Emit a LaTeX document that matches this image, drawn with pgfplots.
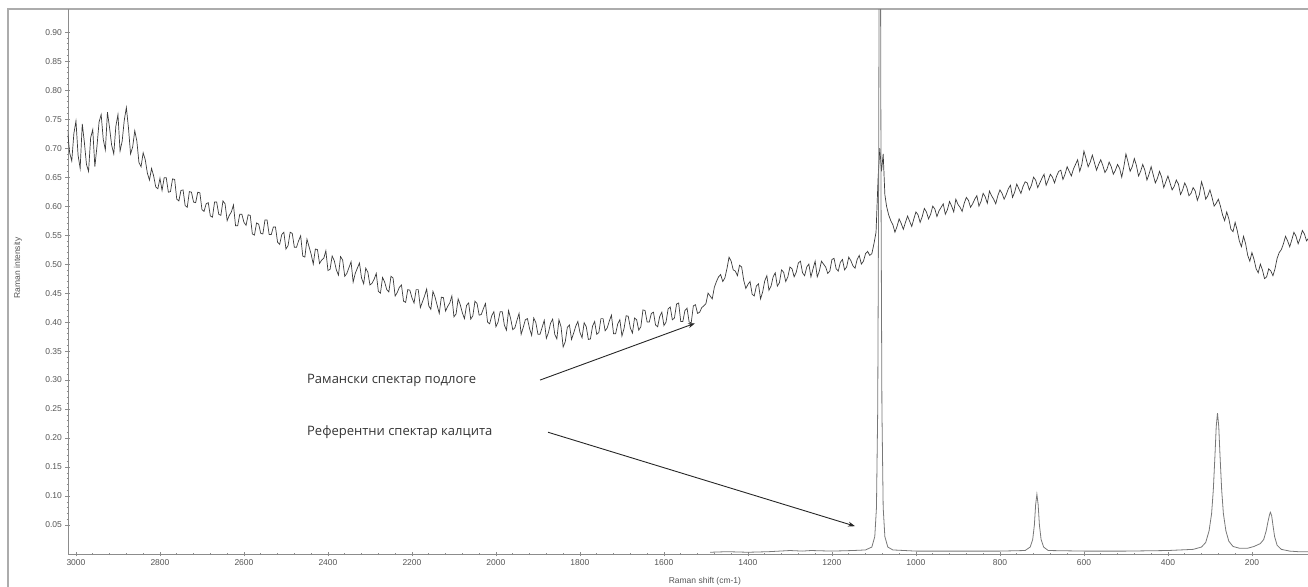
\documentclass[border=0pt]{standalone}
\usepackage{fontspec}
\setmainfont{Liberation Sans}
\newfontfamily\annfont{Open Sans}
\usepackage{pgfplots}
\pgfplotsset{compat=1.18}
\usetikzlibrary{arrows.meta}
\definecolor{subst}{HTML}{3A3A3A}
\definecolor{calc}{HTML}{787878}
\definecolor{axgray}{HTML}{8C8C8C}
\definecolor{txtgray}{HTML}{555555}
\begin{document}
\begin{tikzpicture}
\path[use as bounding box] (0,0) rectangle (1308pt,586pt);
\draw[gray!65, line width=2pt] (8pt,-20pt) -- (8pt,577pt) -- (1330pt,577pt);
\begin{axis}[
  at={(68pt,32pt)}, anchor=south west,
  scale only axis, width=1244pt, height=545pt,
  x dir=reverse, xmin=57, xmax=3019, ymin=0, ymax=0.94,
  axis x line*=bottom, axis y line*=left,
  axis line style={axgray, line width=0.8pt, -},
  xtick={200,400,...,3000},
  ytick={0.05,0.10,0.15,0.20,0.25,0.30,0.35,0.40,0.45,0.50,0.55,0.60,0.65,0.70,0.75,0.80,0.85,0.90},
  minor x tick num=4, minor y tick num=4,
  tick align=center,
  major tick length=5pt, minor tick length=2.5pt,
  tick style={axgray, line width=0.6pt},
  /pgf/number format/assume math mode=true,
  xticklabel style={font=\fontsize{8.5}{9}\selectfont, text=txtgray, /pgf/number format/1000 sep={}},
  yticklabel style={font=\fontsize{8.5}{9}\selectfont, text=txtgray, /pgf/number format/.cd, fixed, fixed zerofill, precision=2},
  xlabel={Raman shift (cm-1)}, ylabel={Raman intensity},
  xlabel style={font=\fontsize{8.5}{9}\selectfont, text=txtgray, at={(axis description cs:0.512,-0.0495)}, anchor=center},
  ylabel style={font=\fontsize{8.5}{9}\selectfont, text=txtgray, at={(axis description cs:-0.0402,0.525)}, anchor=center},
  clip=true,
]
% substrate Raman spectrum
\addplot[subst, line width=0.7pt] coordinates {
(3020,0.730)(3015,0.692)(3010,0.678)(3005,0.725)(3000,0.747)(2995,0.688)(2990,0.665)(2985,0.742)(2980,0.710)(2975,0.672)
(2970,0.660)(2965,0.718)(2960,0.732)(2955,0.668)(2950,0.703)(2945,0.745)(2940,0.758)(2935,0.715)(2930,0.697)(2925,0.762)
(2920,0.735)(2915,0.705)(2910,0.690)(2905,0.738)(2900,0.758)(2895,0.695)(2890,0.712)(2885,0.748)(2880,0.770)(2875,0.735)
(2870,0.690)(2865,0.702)(2860,0.730)(2855,0.712)(2850,0.675)(2845,0.668)(2840,0.692)(2835,0.680)(2830,0.657)(2825,0.645)
(2820,0.665)(2815,0.652)(2810,0.633)(2805,0.630)(2800,0.648)(2795,0.627)(2790,0.649)(2785,0.649)(2780,0.624)(2775,0.625)
(2770,0.647)(2765,0.646)(2760,0.612)(2755,0.609)(2750,0.627)(2745,0.628)(2740,0.601)(2735,0.598)(2730,0.625)(2725,0.624)
(2720,0.607)(2715,0.606)(2710,0.624)(2705,0.623)(2700,0.594)(2695,0.591)(2690,0.604)(2685,0.606)(2680,0.583)(2675,0.581)
(2670,0.607)(2665,0.607)(2660,0.586)(2655,0.584)(2650,0.609)(2645,0.604)(2640,0.575)(2635,0.584)(2630,0.590)(2625,0.602)
(2620,0.566)(2615,0.566)(2610,0.586)(2605,0.586)(2600,0.572)(2595,0.567)(2590,0.585)(2585,0.584)(2580,0.552)(2575,0.550)
(2570,0.571)(2565,0.569)(2560,0.553)(2555,0.552)(2550,0.576)(2545,0.576)(2540,0.551)(2535,0.551)(2530,0.564)(2525,0.564)
(2520,0.538)(2515,0.534)(2510,0.551)(2505,0.555)(2500,0.526)(2495,0.532)(2490,0.555)(2485,0.553)(2480,0.529)(2475,0.529)
(2470,0.540)(2465,0.549)(2460,0.514)(2455,0.512)(2450,0.543)(2445,0.530)(2440,0.517)(2435,0.500)(2430,0.526)(2425,0.525)
(2420,0.501)(2415,0.507)(2410,0.510)(2405,0.523)(2400,0.489)(2395,0.491)(2390,0.514)(2385,0.506)(2380,0.490)(2375,0.481)
(2370,0.513)(2365,0.507)(2360,0.479)(2355,0.484)(2350,0.494)(2345,0.504)(2340,0.469)(2335,0.484)(2330,0.493)(2325,0.502)
(2320,0.476)(2315,0.466)(2310,0.493)(2305,0.486)(2300,0.464)(2295,0.467)(2290,0.474)(2285,0.484)(2280,0.453)(2275,0.450)
(2270,0.477)(2265,0.469)(2260,0.456)(2255,0.452)(2250,0.479)(2245,0.476)(2240,0.445)(2235,0.451)(2230,0.460)(2225,0.464)
(2220,0.436)(2215,0.434)(2210,0.456)(2205,0.455)(2200,0.442)(2195,0.433)(2190,0.456)(2185,0.456)(2180,0.425)(2175,0.435)
(2170,0.445)(2165,0.457)(2160,0.428)(2155,0.422)(2150,0.453)(2145,0.443)(2140,0.429)(2135,0.415)(2130,0.443)(2125,0.442)
(2120,0.419)(2115,0.427)(2110,0.433)(2105,0.445)(2100,0.409)(2095,0.414)(2090,0.440)(2085,0.430)(2080,0.416)(2075,0.406)
(2070,0.429)(2065,0.433)(2060,0.405)(2055,0.411)(2050,0.436)(2045,0.432)(2040,0.412)(2035,0.413)(2030,0.423)(2025,0.432)
(2020,0.400)(2015,0.397)(2010,0.411)(2005,0.418)(2000,0.392)(1995,0.400)(1990,0.418)(1985,0.418)(1980,0.395)(1975,0.386)
(1970,0.420)(1965,0.406)(1960,0.387)(1955,0.390)(1950,0.403)(1945,0.415)(1940,0.379)(1935,0.391)(1930,0.404)(1925,0.406)
(1920,0.389)(1915,0.377)(1910,0.407)(1905,0.399)(1900,0.379)(1895,0.379)(1890,0.391)(1885,0.403)(1880,0.372)(1875,0.382)
(1870,0.398)(1865,0.405)(1860,0.379)(1855,0.371)(1850,0.404)(1845,0.392)(1840,0.357)(1835,0.366)(1830,0.391)(1825,0.395)
(1820,0.370)(1815,0.381)(1810,0.393)(1805,0.401)(1800,0.382)(1795,0.373)(1790,0.399)(1785,0.392)(1780,0.370)(1775,0.371)
(1770,0.393)(1765,0.401)(1760,0.379)(1755,0.382)(1750,0.406)(1745,0.406)(1740,0.385)(1735,0.390)(1730,0.402)(1725,0.412)
(1720,0.380)(1715,0.380)(1710,0.397)(1705,0.404)(1700,0.376)(1695,0.389)(1690,0.411)(1685,0.410)(1680,0.390)(1675,0.381)
(1670,0.407)(1665,0.404)(1660,0.386)(1655,0.392)(1650,0.421)(1645,0.420)(1640,0.400)(1635,0.400)(1630,0.415)(1625,0.417)
(1620,0.395)(1615,0.392)(1610,0.410)(1605,0.417)(1600,0.394)(1595,0.400)(1590,0.423)(1585,0.426)(1580,0.404)(1575,0.407)
(1570,0.431)(1565,0.433)(1560,0.401)(1555,0.401)(1550,0.420)(1545,0.424)(1540,0.400)(1535,0.399)(1530,0.428)(1525,0.430)
(1520,0.415)(1515,0.417)(1510,0.425)(1505,0.428)(1500,0.432)(1495,0.450)(1490,0.445)(1485,0.440)(1480,0.460)(1475,0.470)
(1470,0.478)(1465,0.482)(1460,0.470)(1455,0.476)(1450,0.492)(1445,0.512)(1440,0.505)(1435,0.490)(1430,0.488)(1425,0.480)
(1420,0.498)(1415,0.495)(1410,0.472)(1405,0.458)(1400,0.465)(1395,0.470)(1390,0.448)(1385,0.445)(1380,0.462)(1375,0.466)
(1370,0.440)(1365,0.452)(1360,0.471)(1355,0.480)(1350,0.455)(1345,0.462)(1340,0.478)(1335,0.485)(1330,0.462)(1325,0.468)
(1320,0.490)(1315,0.486)(1310,0.470)(1305,0.478)(1300,0.495)(1295,0.492)(1290,0.478)(1285,0.486)(1280,0.502)(1275,0.505)
(1270,0.485)(1265,0.480)(1260,0.495)(1255,0.500)(1250,0.478)(1245,0.492)(1240,0.505)(1235,0.478)(1230,0.488)(1225,0.505)
(1220,0.500)(1215,0.495)(1210,0.484)(1205,0.488)(1200,0.508)(1195,0.510)(1190,0.492)(1185,0.488)(1180,0.503)(1175,0.508)
(1170,0.490)(1165,0.495)(1160,0.512)(1155,0.506)(1150,0.497)(1145,0.493)(1140,0.508)(1135,0.515)(1130,0.500)(1125,0.505)
(1120,0.518)(1115,0.522)(1110,0.515)(1105,0.518)(1100,0.535)(1095,0.555)(1090,0.650)(1086,0.700)(1082,0.660)(1078,0.690)
(1074,0.620)(1070,0.600)(1065,0.585)(1060,0.575)(1055,0.568)(1050,0.555)(1045,0.565)(1040,0.578)(1035,0.570)(1030,0.560)
(1025,0.572)(1020,0.583)(1015,0.574)(1010,0.565)(1005,0.578)(1000,0.590)(995,0.585)(990,0.572)(985,0.582)(980,0.596)
(975,0.590)(970,0.578)(965,0.586)(960,0.600)(955,0.595)(950,0.582)(945,0.592)(940,0.598)(935,0.604)(930,0.586)
(925,0.594)(920,0.608)(915,0.600)(910,0.590)(905,0.612)(900,0.603)(895,0.598)(890,0.591)(885,0.605)(880,0.615)
(875,0.610)(870,0.598)(865,0.604)(860,0.612)(855,0.618)(850,0.600)(845,0.608)(840,0.622)(835,0.616)(830,0.605)
(825,0.626)(820,0.618)(815,0.612)(810,0.604)(805,0.618)(800,0.628)(795,0.622)(790,0.612)(785,0.620)(780,0.630)
(775,0.636)(770,0.615)(765,0.624)(760,0.638)(755,0.630)(750,0.622)(745,0.634)(740,0.642)(735,0.640)(730,0.628)
(725,0.636)(720,0.650)(715,0.645)(710,0.632)(705,0.640)(700,0.648)(695,0.655)(690,0.636)(685,0.645)(680,0.655)
(675,0.650)(670,0.640)(665,0.652)(660,0.660)(655,0.662)(650,0.646)(645,0.655)(640,0.668)(635,0.660)(630,0.652)
(625,0.664)(620,0.672)(615,0.680)(610,0.660)(605,0.672)(600,0.695)(595,0.682)(590,0.668)(585,0.676)(580,0.688)
(575,0.675)(570,0.662)(565,0.672)(560,0.680)(555,0.670)(550,0.658)(545,0.664)(540,0.676)(535,0.668)(530,0.655)
(525,0.662)(520,0.672)(515,0.665)(510,0.650)(505,0.668)(500,0.690)(495,0.676)(490,0.660)(485,0.668)(480,0.682)
(475,0.670)(470,0.652)(465,0.660)(460,0.672)(455,0.662)(450,0.645)(445,0.655)(440,0.668)(435,0.654)(430,0.640)
(425,0.648)(420,0.660)(415,0.650)(410,0.632)(405,0.642)(400,0.652)(395,0.640)(390,0.628)(385,0.634)(380,0.645)
(375,0.638)(370,0.620)(365,0.628)(360,0.640)(355,0.632)(350,0.618)(345,0.622)(340,0.632)(335,0.626)(330,0.610)
(325,0.620)(320,0.642)(315,0.630)(310,0.612)(305,0.618)(300,0.628)(295,0.615)(290,0.600)(285,0.605)(280,0.612)
(275,0.600)(270,0.585)(265,0.575)(260,0.590)(255,0.578)(250,0.560)(245,0.556)(240,0.572)(235,0.558)(230,0.540)
(225,0.530)(220,0.548)(215,0.535)(210,0.515)(205,0.505)(200,0.520)(195,0.508)(190,0.492)(185,0.485)(180,0.500)
(175,0.490)(170,0.475)(165,0.478)(160,0.492)(155,0.488)(150,0.480)(145,0.492)(140,0.510)(135,0.520)(130,0.525)
(125,0.535)(120,0.548)(115,0.540)(110,0.530)(105,0.542)(100,0.555)(95,0.548)(90,0.535)(85,0.545)(80,0.558)
(75,0.552)(70,0.540)(65,0.545)(60,0.552)
};
% calcite reference spectrum
\addplot[calc, line width=0.8pt] coordinates {
(1490,0.003)(1450,0.004)(1400,0.003)(1350,0.004)(1300,0.006)(1270,0.005)(1250,0.006)(1200,0.005)(1150,0.006)(1120,0.007)
(1105,0.012)(1098,0.030)(1094,0.080)(1091,0.250)(1089,0.600)(1087,1.200)(1086,1.500)(1085,1.200)(1083,0.600)(1081,0.250)
(1078,0.080)(1074,0.030)(1067,0.012)(1055,0.007)(1000,0.005)(900,0.005)(800,0.005)(740,0.006)(728,0.012)(722,0.025)
(718,0.050)(715,0.085)(712,0.103)(709,0.085)(706,0.050)(702,0.025)(696,0.012)(685,0.006)(600,0.005)(500,0.005)
(400,0.006)(340,0.008)(320,0.012)(310,0.020)(302,0.040)(296,0.070)(292,0.110)(288,0.170)(285,0.220)(282,0.243)
(279,0.220)(276,0.170)(272,0.110)(268,0.070)(262,0.040)(255,0.022)(245,0.013)(230,0.010)(210,0.010)(195,0.013)
(180,0.018)(172,0.025)(166,0.040)(162,0.055)(158,0.068)(156,0.072)(153,0.066)(150,0.050)(146,0.030)(140,0.015)
(130,0.008)(110,0.005)(90,0.004)(60,0.004)
};
\node[anchor=west, font=\annfont\fontsize{13}{15}\selectfont, text=black!80, inner sep=0pt] at (axis cs:2450,0.30) {Рамански спектар подлоге};
\node[anchor=west, font=\annfont\fontsize{13}{15}\selectfont, text=black!80, inner sep=0pt] at (axis cs:2450,0.21) {Референтни спектар калцита};
\draw[black!85, line width=0.9pt, -{Stealth[length=7pt,width=5pt]}] (axis cs:1895,0.300) -- (axis cs:1526,0.398);
\draw[black!85, line width=0.9pt, -{Stealth[length=7pt,width=5pt]}] (axis cs:1876,0.210) -- (axis cs:1145,0.048);
\end{axis}
\end{tikzpicture}
\end{document}
